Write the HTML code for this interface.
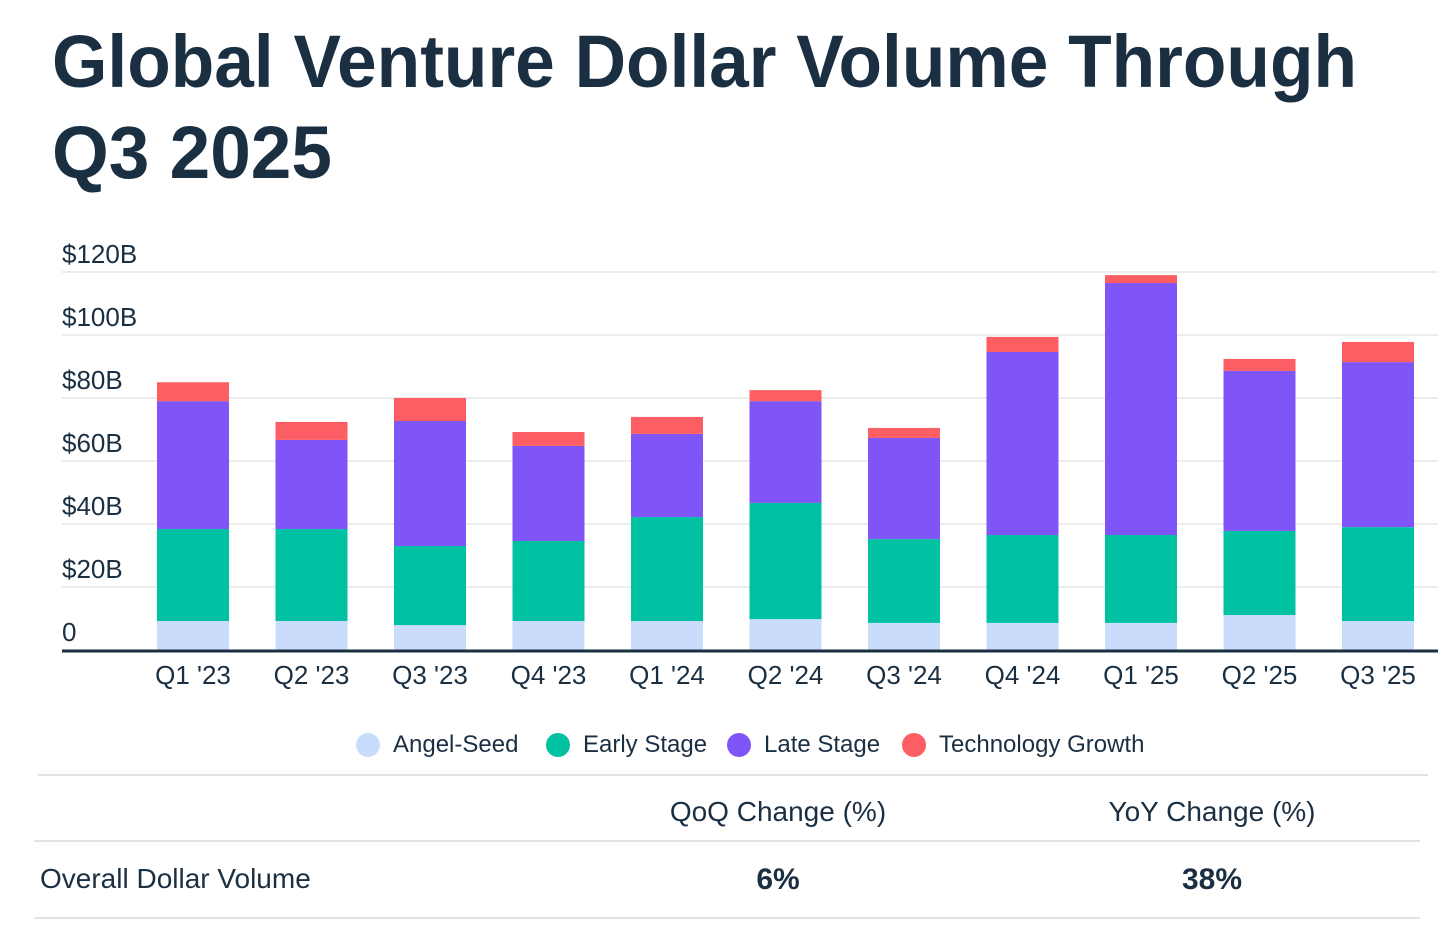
<!DOCTYPE html>
<html><head><meta charset="utf-8"><style>
html,body{margin:0;padding:0;background:#fff;}
svg{display:block;font-family:"Liberation Sans",sans-serif;}
</style></head><body>
<svg id="chart" width="1456" height="928" viewBox="0 0 1456 928">
<text x="52" y="87" font-size="74" font-weight="bold" fill="#1b2f42" textLength="1305" lengthAdjust="spacingAndGlyphs">Global Venture Dollar Volume Through</text>
<text x="52" y="178" font-size="74" font-weight="bold" fill="#1b2f42" textLength="280" lengthAdjust="spacingAndGlyphs">Q3 2025</text>
<g id="grid"></g><g id="bars"></g><g id="xlabels"></g>
<line x1="62" y1="651" x2="1438" y2="651" stroke="#1b2f42" stroke-width="3"/>
<g id="legend"></g>
<line x1="38" y1="775" x2="1428" y2="775" stroke="#e3e3e3" stroke-width="2"/>
<line x1="34" y1="841" x2="1420" y2="841" stroke="#e3e3e3" stroke-width="2"/>
<line x1="34" y1="918" x2="1420" y2="918" stroke="#e3e3e3" stroke-width="2"/>
<text x="778" y="821" font-size="28" fill="#1b2f42" text-anchor="middle">QoQ Change (%)</text>
<text x="1212" y="821" font-size="28" fill="#1b2f42" text-anchor="middle">YoY Change (%)</text>
<text x="40" y="888" font-size="28" fill="#1b2f42">Overall Dollar Volume</text>
<text x="778" y="889" font-size="30" font-weight="bold" fill="#1b2f42" text-anchor="middle">6%</text>
<text x="1212" y="889" font-size="30" font-weight="bold" fill="#1b2f42" text-anchor="middle">38%</text>
</svg>
<script>
const categories=["Q1 '23","Q2 '23","Q3 '23","Q4 '23","Q1 '24","Q2 '24","Q3 '24","Q4 '24","Q1 '25","Q2 '25","Q3 '25"];
const angelSeed=[9.2,9.2,7.9,9.2,9.2,9.8,8.6,8.6,8.6,11.1,9.2];
const earlyStage=[29.2,29.2,25.1,25.4,33.0,36.9,26.6,27.9,27.9,26.7,29.8];
const lateStage=[40.6,28.3,39.7,30.2,26.4,32.3,32.1,58.1,80.0,50.8,52.4];
const techGrowth=[6.0,5.7,7.3,4.4,5.4,3.5,3.2,4.8,2.5,3.8,6.4];
const yTicks=[0,20,40,60,80,100,120];
const yTickLabels=["0","$20B","$40B","$60B","$80B","$100B","$120B"];
const seriesNames=["Angel-Seed","Early Stage","Late Stage","Technology Growth"];
const NS="http://www.w3.org/2000/svg";
const colors=["#c9dcfb","#00c2a3","#8055f7","#fd5e63"];
const y=v=>650-v*3.15;
const x=i=>193+i*118.5;
const bw=72;
function mk(tag,attrs,parent){const e=document.createElementNS(NS,tag);for(const k in attrs)e.setAttribute(k,attrs[k]);parent.appendChild(e);return e;}
const grid=document.getElementById('grid');
yTicks.forEach((t,i)=>{
  if(t>0){const l=mk('line',{x1:62,x2:1438,y1:y(t),y2:y(t),stroke:'#e6e6e6','stroke-width':1.5},grid);
  
  }
  const tx=mk('text',{x:62,y:y(t)-9,'font-size':26,fill:'#1b2f42'},grid);
  tx.textContent=yTickLabels[i];
  
  
});
const bars=document.getElementById('bars');
const series=[angelSeed,earlyStage,lateStage,techGrowth];
const segNames=['angel-seed','early-stage','late-stage','tech-growth'];
categories.forEach((c,i)=>{
  let base=0;
  series.forEach((s,j)=>{
    const top=base+s[i];
    const r=mk('rect',{x:x(i)-bw/2,y:y(top),width:bw,height:y(base)-y(top),fill:colors[j]},bars);
    
    
    base=top;
  });
  const t=mk('text',{x:x(i),y:684,'font-size':26,fill:'#1b2f42','text-anchor':'middle'},document.getElementById('xlabels'));
  t.textContent=c;
  
  
});
const leg=document.getElementById('legend');
const lx=[368,558,739,914];
seriesNames.forEach((n,j)=>{
  const c=mk('circle',{cx:lx[j],cy:745,r:12,fill:colors[j]},leg);
  
  
  const t=mk('text',{x:lx[j]+25,y:752,'font-size':24,fill:'#1b2f42'},leg);
  t.textContent=n;
  
  
});
</script>
</body></html>
